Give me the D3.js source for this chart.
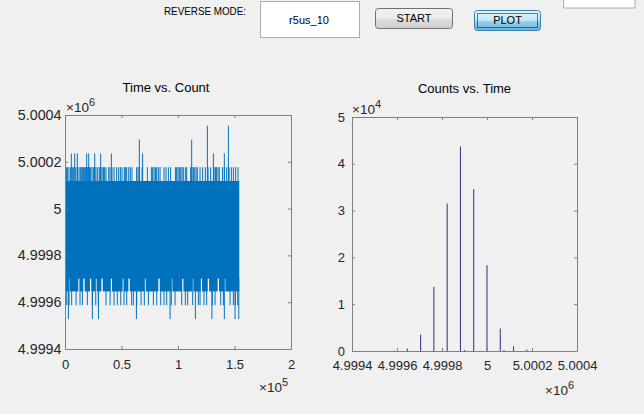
<!DOCTYPE html>
<meta charset="utf-8">
<style>
  body { margin: 0; background: #f0f0f0; }
  svg { display: block; font-family: "Liberation Sans", Arial, sans-serif; }
  .axis text { font-size: 13px; fill: #262626; }
  .axis.wide text { font-size: 14.3px; }
  .axis line, .axis path { stroke: #808080; }
  .ui text { font-size: 11px; fill: #000; }
</style>
<svg width="644" height="414"></svg>
<script src="https://d3js.org/d3.v7.min.js"></script>
<script>
  // ---- data ----

  // tick values
  var sampleTicks = [0, 50, 100, 150, 200];                 // thousands of samples
  var timeTicks = [4999400, 4999600, 4999800, 5000000, 5000200, 5000400];
  var freqTicks = [0, 10000, 20000, 30000, 40000, 50000];

  // left plot: the trace is a dense band, with spikes reaching other levels
  var traceEnd = 154.2;          // last sample (thousands)
  var bandTop = 5000118;
  var bandBottom = 4999705;
  var floorLevel = 4999646;
  // sample positions (thousands) of spikes, one array per level
  var up177 = [0.6, 1.2, 2.1, 3.5, 5.0, 6.5, 7.7, 9.5, 10.9, 12.4, 13.6, 14.8, 15.6, 16.5,
    17.4, 18.3, 19.2, 20.1, 21.0, 21.8, 22.7, 23.9, 25.1, 26.3, 27.4, 28.9, 30.4, 31.6,
    32.8, 34.0, 35.1, 36.3, 38.7, 39.8, 41.6, 43.4, 45.7, 47.5, 49.0, 50.5, 52.5, 53.4,
    54.6, 56.4, 57.8, 59.3, 63.4, 64.6, 65.8, 68.2, 72.9, 76.4, 77.6, 78.8, 80.0, 81.1,
    82.6, 84.1, 87.6, 89.4, 91.5, 93.5, 97.7, 98.8, 100.0, 101.2, 102.4, 103.6, 104.7,
    106.5, 107.7, 111.2, 112.4, 113.6, 114.8, 116.0, 117.1, 119.5, 121.8, 124.2, 126.6,
    128.9, 131.9, 133.1, 134.2, 135.4, 136.6, 139.3, 141.0, 143.1, 145.2, 147.2, 149.0,
    151.0, 153.1];
  var up236 = [5.6, 8.6, 10.9, 19.2, 21.0, 26.3, 31.6, 41.0, 68.7, 131.3, 141.0];
  var up295 = [65.8, 112.1];
  var up354 = [126.0, 144.6];
  var down587 = [1.5, 3.6, 5.9, 9.8, 13.3, 15.4, 19.8, 24.2, 27.2, 29.5, 36.3, 39.9, 43.4,
    46.3, 49.3, 52.2, 54.6, 59.0, 60.5, 63.5, 67.3, 70.2, 73.8, 78.2, 81.2, 84.7, 87.6,
    90.0, 94.1, 97.4, 103.3, 106.5, 108.6, 113.0, 118.0, 119.5, 123.0, 125.4, 130.4,
    132.8, 137.8, 140.2, 146.1, 149.0, 150.8, 152.8];
  var down528 = [3.0, 24.2, 29.6, 63.2, 93.0, 115.4, 130.0, 141.0, 150.5, 153.8];
  // places where the 4999646 row is not reached
  var floorGaps = [3.0, 11.8, 16.2, 22.1, 26.9, 32.2, 40.4, 51.0, 56.1, 70.2, 82.6, 93.8,
    103.6, 112.4, 120.1, 126.3, 135.1, 140.7];

  // right plot: histogram of the same values
  var binTimes = [4999587, 4999646, 4999705, 4999764, 4999823, 4999882, 4999900,
    4999941, 5000000, 5000059, 5000076, 5000118, 5000177];
  var binCounts = [100, 500, 3500, 13700, 31500, 43700, 200, 34600, 18300, 4800, 200,
    1000, 300];

  // ---- drawing ----
  var svg = d3.select("svg");
  var blue = "#0072bd";
  var navy = "#2e2e7e";

  var fmtTime = function(v) { return String(+(v / 1e6).toFixed(4)); };

  // Left axes: time vs. count
  var xL = d3.scaleLinear().domain([0, 200]).range([65, 291]);
  var yL = d3.scaleLinear().domain([4999400, 5000400]).range([349, 115]);

  // Right axes: counts vs. time
  var xR = d3.scaleLinear().domain([4999400, 5000400]).range([352, 577]);
  var yR = d3.scaleLinear().domain([0, 50000]).range([351, 117]);

  var plotL = svg.append("g");

  // main band down to the partly filled bottom row (one rect, no seam)
  plotL.append("rect")
    .attr("x", xL(0))
    .attr("y", yL(bandTop))
    .attr("width", xL(traceEnd) - xL(0))
    .attr("height", yL(floorLevel) - yL(bandTop))
    .attr("fill", blue);

  plotL.selectAll(".gap")
    .data(floorGaps)
    .enter()
    .append("rect")
    .attr("class", "gap")
    .attr("x", function(d) { return xL(d); })
    .attr("y", yL(bandBottom) + 1)
    .attr("width", xL(1.2) - xL(0))
    .attr("height", yL(floorLevel) - yL(bandBottom))
    .attr("fill", "#fff");

  function spikes(list, from, to) {
    plotL.append("g")
      .selectAll("line")
      .data(list)
      .enter()
      .append("line")
      .attr("x1", function(d) { return xL(d); })
      .attr("x2", function(d) { return xL(d); })
      .attr("y1", yL(from))
      .attr("y2", yL(to))
      .attr("stroke", blue)
      .attr("stroke-width", 1);
  }
  spikes(up177, bandTop, 5000177);
  spikes(up236, bandTop, 5000236);
  spikes(up295, bandTop, 5000295);
  spikes(up354, bandTop, 5000354);
  spikes(down587, bandBottom, 4999587);
  spikes(down528, bandBottom, 4999528);

  // histogram lines
  svg.append("g")
    .selectAll("line")
    .data(binTimes)
    .enter()
    .append("line")
    .attr("x1", function(d) { return xR(d); })
    .attr("x2", function(d) { return xR(d); })
    .attr("y1", yR(0))
    .attr("y2", function(d, i) { return yR(binCounts[i]); })
    .attr("stroke", navy)
    .attr("stroke-width", 1);

  // boxed axes with inward ticks on all four sides
  function boxAxes(x, y, xTicks, yTicks, fmtX, fmtY, padX, padY, yClass) {
    var x0 = x.range()[0], x1 = x.range()[1];
    var y0 = y.range()[1], y1 = y.range()[0];
    var none = function() { return ""; };

    svg.append("g").attr("class", "axis")
      .attr("transform", "translate(0," + y1 + ")")
      .call(d3.axisBottom(x).tickValues(xTicks).tickFormat(fmtX)
        .tickSizeInner(-3).tickSizeOuter(0).tickPadding(padX));
    svg.append("g").attr("class", "axis")
      .attr("transform", "translate(0," + y0 + ")")
      .call(d3.axisTop(x).tickValues(xTicks).tickFormat(none)
        .tickSizeInner(-3).tickSizeOuter(0));
    svg.append("g").attr("class", "axis " + yClass)
      .attr("transform", "translate(" + x0 + ",0)")
      .call(d3.axisLeft(y).tickValues(yTicks).tickFormat(fmtY)
        .tickSizeInner(-3).tickSizeOuter(0).tickPadding(padY));
    svg.append("g").attr("class", "axis")
      .attr("transform", "translate(" + x1 + ",0)")
      .call(d3.axisRight(y).tickValues(yTicks).tickFormat(none)
        .tickSizeInner(-3).tickSizeOuter(0));

    svg.selectAll(".axis .domain").attr("fill", "none");
  }

  boxAxes(xL, yL, sampleTicks, timeTicks,
    function(v) { return String(v / 100); }, fmtTime, 11, 3.5, "wide");
  boxAxes(xR, yR, timeTicks, freqTicks,
    fmtTime, function(v) { return String(v / 10000); }, 10, 7, "");

  // exponent labels (x10^n)
  function exponent(x, y, n) {
    var t = svg.append("text")
      .attr("x", x)
      .attr("y", y)
      .attr("font-size", 13.5)
      .attr("fill", "#262626");
    t.append("tspan").text("\u00d710");
    t.append("tspan").attr("dy", -6).attr("font-size", 11).text(n);
  }
  exponent(66, 111.5, "6");
  exponent(259, 392, "5");
  exponent(352, 114, "4");
  exponent(545, 394.5, "6");

  // titles
  svg.append("text")
    .attr("x", 166).attr("y", 92)
    .attr("text-anchor", "middle")
    .attr("font-size", 13)
    .text("Time vs. Count");
  svg.append("text")
    .attr("x", 464.5).attr("y", 92.5)
    .attr("text-anchor", "middle")
    .attr("font-size", 13)
    .text("Counts vs. Time");

  // ---- the little control strip on top ----
  var defs = svg.append("defs");
  var gStart = defs.append("linearGradient").attr("id", "btn").attr("x2", 0).attr("y2", 1);
  gStart.append("stop").attr("offset", "0").attr("stop-color", "#f2f2f2");
  gStart.append("stop").attr("offset", "0.5").attr("stop-color", "#ebebeb");
  gStart.append("stop").attr("offset", "0.55").attr("stop-color", "#dddddd");
  gStart.append("stop").attr("offset", "1").attr("stop-color", "#cfcfcf");
  var gPlot = defs.append("linearGradient").attr("id", "btnFocus").attr("x2", 0).attr("y2", 1);
  gPlot.append("stop").attr("offset", "0").attr("stop-color", "#e5f4fc");
  gPlot.append("stop").attr("offset", "0.5").attr("stop-color", "#c4e5f6");
  gPlot.append("stop").attr("offset", "0.55").attr("stop-color", "#98d1ef");
  gPlot.append("stop").attr("offset", "1").attr("stop-color", "#68b3db");

  var ui = svg.append("g").attr("class", "ui");

  ui.append("text")
    .attr("x", 164).attr("y", 15)
    .attr("textLength", 82).attr("lengthAdjust", "spacingAndGlyphs")
    .text("REVERSE MODE:");

  ui.append("rect")
    .attr("x", 260.5).attr("y", 1.5).attr("width", 99).attr("height", 36)
    .attr("fill", "#fff").attr("stroke", "#abadb3");
  ui.append("text")
    .attr("x", 309).attr("y", 23.5)
    .attr("text-anchor", "middle")
    .text("r5us_10");

  ui.append("rect")
    .attr("x", 375.5).attr("y", 8.5).attr("width", 77).attr("height", 20).attr("rx", 3)
    .attr("fill", "url(#btn)").attr("stroke", "#707070");
  ui.append("text")
    .attr("x", 414).attr("y", 21.5)
    .attr("text-anchor", "middle")
    .text("START");

  ui.append("rect")
    .attr("x", 474.5).attr("y", 10.5).attr("width", 66).attr("height", 20).attr("rx", 3)
    .attr("fill", "url(#btnFocus)").attr("stroke", "#3c7fb1");
  ui.append("rect")
    .attr("x", 477.5).attr("y", 13.5).attr("width", 60).attr("height", 14)
    .attr("fill", "none").attr("stroke", "#000").attr("stroke-dasharray", "1,1");
  ui.append("text")
    .attr("x", 507.5).attr("y", 24)
    .attr("text-anchor", "middle")
    .text("PLOT");

  ui.append("rect")
    .attr("x", 563.5).attr("y", -1.5).attr("width", 71.5).attr("height", 9.5)
    .attr("fill", "#fff").attr("stroke", "#abadb3");
</script>
